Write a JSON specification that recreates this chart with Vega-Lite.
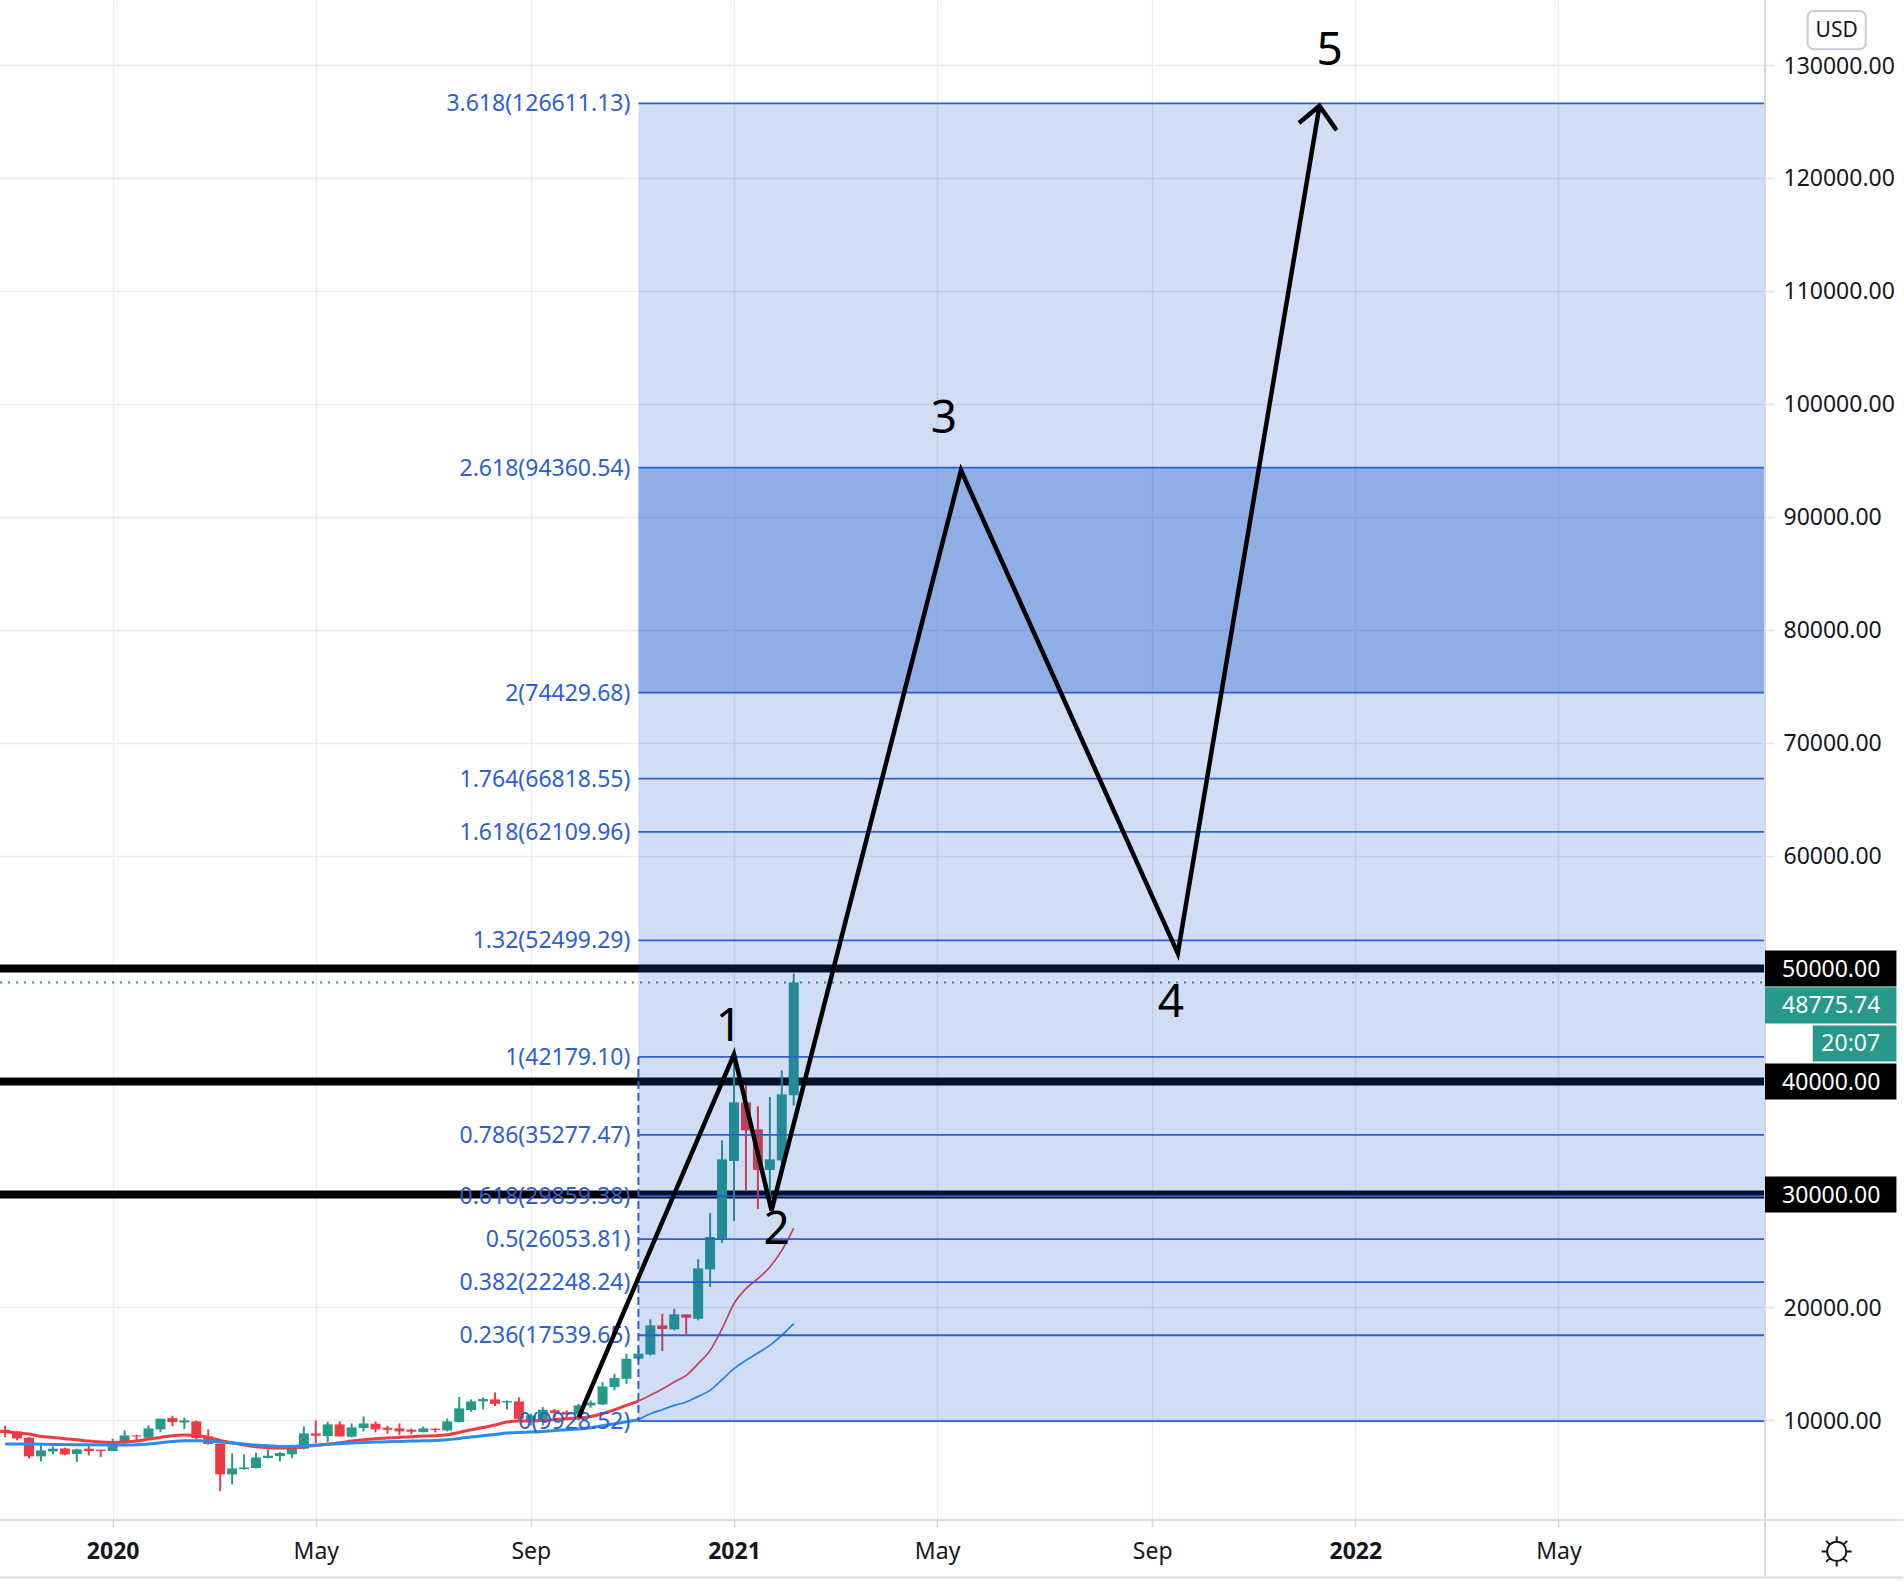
{
  "$schema": "https://vega.github.io/schema/vega-lite/v6.json",
  "width": 1765,
  "height": 1520,
  "autosize": {"type": "none"},
  "padding": {"left": 0, "top": 0, "right": 139, "bottom": 66},
  "background": "#ffffff",
  "config": {"view": {"stroke": null}, "font": "Noto Sans"},
  "datasets": {
    "candles": [
      {"date":"2019-11-04","open":9174,"high":9528,"low":8524,"close":8879},
      {"date":"2019-11-11","open":9026,"high":9026,"low":8229,"close":8406},
      {"date":"2019-11-18","open":8465,"high":8524,"low":6636,"close":6813},
      {"date":"2019-11-25","open":6813,"high":7787,"low":6370,"close":7344},
      {"date":"2019-12-02","open":7255,"high":7698,"low":6990,"close":7492},
      {"date":"2019-12-09","open":7521,"high":7580,"low":6901,"close":6990},
      {"date":"2019-12-16","open":7019,"high":7492,"low":6311,"close":7433},
      {"date":"2019-12-23","open":7492,"high":7787,"low":6901,"close":7285},
      {"date":"2019-12-30","open":7403,"high":7403,"low":6754,"close":7285},
      {"date":"2020-01-06","open":7285,"high":8377,"low":7285,"close":8023},
      {"date":"2020-01-13","open":8111,"high":9115,"low":7846,"close":8672},
      {"date":"2020-01-20","open":8672,"high":8731,"low":8229,"close":8583},
      {"date":"2020-01-27","open":8465,"high":9557,"low":8406,"close":9292},
      {"date":"2020-02-03","open":9203,"high":10147,"low":8967,"close":10147},
      {"date":"2020-02-10","open":10206,"high":10413,"low":9469,"close":9852},
      {"date":"2020-02-17","open":9823,"high":10236,"low":9233,"close":10000},
      {"date":"2020-02-24","open":9911,"high":10000,"low":8318,"close":8436},
      {"date":"2020-03-02","open":8583,"high":9203,"low":7875,"close":7905},
      {"date":"2020-03-09","open":7934,"high":7934,"low":3744,"close":5219},
      {"date":"2020-03-16","open":5219,"high":7078,"low":4334,"close":5750},
      {"date":"2020-03-23","open":5692,"high":7000,"low":5632,"close":5839},
      {"date":"2020-03-30","open":5780,"high":7138,"low":5750,"close":6724},
      {"date":"2020-04-06","open":6665,"high":7433,"low":6636,"close":6872},
      {"date":"2020-04-13","open":6842,"high":7197,"low":6370,"close":7108},
      {"date":"2020-04-20","open":6990,"high":7846,"low":6665,"close":7492},
      {"date":"2020-04-27","open":7492,"high":9469,"low":7433,"close":8849},
      {"date":"2020-05-04","open":8849,"high":10000,"low":7993,"close":8643},
      {"date":"2020-05-11","open":8613,"high":9882,"low":8082,"close":9646},
      {"date":"2020-05-18","open":9646,"high":9911,"low":8583,"close":8583},
      {"date":"2020-05-25","open":8554,"high":9734,"low":8495,"close":9380},
      {"date":"2020-06-01","open":9321,"high":10354,"low":9026,"close":9734},
      {"date":"2020-06-08","open":9705,"high":9882,"low":8938,"close":9203},
      {"date":"2020-06-15","open":9351,"high":9528,"low":8819,"close":9174},
      {"date":"2020-06-22","open":9292,"high":9734,"low":8701,"close":9026},
      {"date":"2020-06-29","open":9174,"high":9292,"low":8790,"close":8997},
      {"date":"2020-07-06","open":8967,"high":9469,"low":8938,"close":9292},
      {"date":"2020-07-13","open":9262,"high":9292,"low":8938,"close":9144},
      {"date":"2020-07-20","open":9115,"high":10177,"low":9026,"close":9911},
      {"date":"2020-07-27","open":9852,"high":12066,"low":9823,"close":11062},
      {"date":"2020-08-03","open":10915,"high":11859,"low":10767,"close":11682},
      {"date":"2020-08-10","open":11682,"high":12036,"low":10974,"close":11889},
      {"date":"2020-08-17","open":11859,"high":12479,"low":11269,"close":11475},
      {"date":"2020-08-24","open":11593,"high":11770,"low":10974,"close":11711},
      {"date":"2020-08-31","open":11682,"high":12036,"low":9941,"close":10147},
      {"date":"2020-09-07","open":10000,"high":10590,"low":9557,"close":10443},
      {"date":"2020-09-14","open":10000,"high":11180,"low":9557,"close":10944},
      {"date":"2020-09-21","open":10885,"high":11003,"low":10295,"close":10649},
      {"date":"2020-09-28","open":10738,"high":10885,"low":10147,"close":10531},
      {"date":"2020-10-05","open":10531,"high":11475,"low":10000,"close":11328},
      {"date":"2020-10-12","open":11328,"high":11770,"low":11121,"close":11564},
      {"date":"2020-10-19","open":11416,"high":13394,"low":11357,"close":13010},
      {"date":"2020-10-26","open":12951,"high":14131,"low":12656,"close":13748},
      {"date":"2020-11-02","open":13689,"high":15902,"low":13246,"close":15459},
      {"date":"2020-11-09","open":15463,"high":16348,"low":15370,"close":15905},
      {"date":"2020-11-16","open":15846,"high":18945,"low":15758,"close":18414},
      {"date":"2020-11-23","open":18414,"high":19447,"low":16141,"close":18089},
      {"date":"2020-11-30","open":18060,"high":19889,"low":17971,"close":19387},
      {"date":"2020-12-07","open":19387,"high":19387,"low":17617,"close":19092},
      {"date":"2020-12-14","open":19000,"high":24258,"low":18857,"close":23460},
      {"date":"2020-12-21","open":23373,"high":28360,"low":21808,"close":26235},
      {"date":"2020-12-28","open":26088,"high":34793,"low":25704,"close":33111},
      {"date":"2021-01-04","open":32964,"high":42023,"low":27652,"close":38157},
      {"date":"2021-01-11","open":38157,"high":39662,"low":30367,"close":35679},
      {"date":"2021-01-18","open":35767,"high":37803,"low":28714,"close":32167},
      {"date":"2021-01-25","open":32167,"high":38630,"low":29100,"close":33111},
      {"date":"2021-02-01","open":33023,"high":40990,"low":32300,"close":38866},
      {"date":"2021-02-08","open":38777,"high":49548,"low":37892,"close":48775.74}
    ],
    "averages": [
      {"date":"2019-11-04","line":"fast","part":"left","price":9026},
      {"date":"2019-11-11","line":"fast","part":"left","price":8879},
      {"date":"2019-11-18","line":"fast","part":"left","price":8790},
      {"date":"2019-11-25","line":"fast","part":"left","price":8583},
      {"date":"2019-12-02","line":"fast","part":"left","price":8495},
      {"date":"2019-12-09","line":"fast","part":"left","price":8377},
      {"date":"2019-12-16","line":"fast","part":"left","price":8288},
      {"date":"2019-12-23","line":"fast","part":"left","price":8170},
      {"date":"2019-12-30","line":"fast","part":"left","price":8082},
      {"date":"2020-01-06","line":"fast","part":"left","price":8052},
      {"date":"2020-01-13","line":"fast","part":"left","price":8082},
      {"date":"2020-01-20","line":"fast","part":"left","price":8170},
      {"date":"2020-01-27","line":"fast","part":"left","price":8347},
      {"date":"2020-02-03","line":"fast","part":"left","price":8495},
      {"date":"2020-02-10","line":"fast","part":"left","price":8643},
      {"date":"2020-02-17","line":"fast","part":"left","price":8701},
      {"date":"2020-02-24","line":"fast","part":"left","price":8672},
      {"date":"2020-03-02","line":"fast","part":"left","price":8495},
      {"date":"2020-03-09","line":"fast","part":"left","price":8229},
      {"date":"2020-03-16","line":"fast","part":"left","price":8023},
      {"date":"2020-03-23","line":"fast","part":"left","price":7816},
      {"date":"2020-03-30","line":"fast","part":"left","price":7669},
      {"date":"2020-04-06","line":"fast","part":"left","price":7580},
      {"date":"2020-04-13","line":"fast","part":"left","price":7551},
      {"date":"2020-04-20","line":"fast","part":"left","price":7551},
      {"date":"2020-04-27","line":"fast","part":"left","price":7669},
      {"date":"2020-05-04","line":"fast","part":"left","price":7787},
      {"date":"2020-05-11","line":"fast","part":"left","price":7905},
      {"date":"2020-05-18","line":"fast","part":"left","price":8023},
      {"date":"2020-05-25","line":"fast","part":"left","price":8170},
      {"date":"2020-06-01","line":"fast","part":"left","price":8288},
      {"date":"2020-06-08","line":"fast","part":"left","price":8377},
      {"date":"2020-06-15","line":"fast","part":"left","price":8436},
      {"date":"2020-06-22","line":"fast","part":"left","price":8495},
      {"date":"2020-06-29","line":"fast","part":"left","price":8554},
      {"date":"2020-07-06","line":"fast","part":"left","price":8613},
      {"date":"2020-07-13","line":"fast","part":"left","price":8643},
      {"date":"2020-07-20","line":"fast","part":"left","price":8731},
      {"date":"2020-07-27","line":"fast","part":"left","price":8937},
      {"date":"2020-08-03","line":"fast","part":"left","price":9174},
      {"date":"2020-08-10","line":"fast","part":"left","price":9380},
      {"date":"2020-08-17","line":"fast","part":"left","price":9587},
      {"date":"2020-08-24","line":"fast","part":"left","price":9852},
      {"date":"2020-08-31","line":"fast","part":"left","price":9941},
      {"date":"2020-09-07","line":"fast","part":"left","price":9941},
      {"date":"2020-09-14","line":"fast","part":"left","price":10000},
      {"date":"2020-09-21","line":"fast","part":"left","price":10088},
      {"date":"2020-09-28","line":"fast","part":"left","price":10147},
      {"date":"2020-10-05","line":"fast","part":"left","price":10206},
      {"date":"2020-10-12","line":"fast","part":"left","price":10354},
      {"date":"2020-10-19","line":"fast","part":"left","price":10590},
      {"date":"2020-10-26","line":"fast","part":"left","price":10944},
      {"date":"2020-11-02","line":"fast","part":"left","price":11328},
      {"date":"2020-11-09","line":"fast","part":"left","price":11711},
      {"date":"2020-11-09","line":"fast","part":"right","price":11711},
      {"date":"2020-11-16","line":"fast","part":"right","price":12217},
      {"date":"2020-11-23","line":"fast","part":"right","price":12777},
      {"date":"2020-11-30","line":"fast","part":"right","price":13397},
      {"date":"2020-12-07","line":"fast","part":"right","price":13987},
      {"date":"2020-12-14","line":"fast","part":"right","price":15020},
      {"date":"2020-12-21","line":"fast","part":"right","price":16200},
      {"date":"2020-12-28","line":"fast","part":"right","price":18118},
      {"date":"2021-01-04","line":"fast","part":"right","price":20331},
      {"date":"2021-01-11","line":"fast","part":"right","price":21660},
      {"date":"2021-01-18","line":"fast","part":"right","price":22545},
      {"date":"2021-01-25","line":"fast","part":"right","price":23578},
      {"date":"2021-02-01","line":"fast","part":"right","price":25053},
      {"date":"2021-02-08","line":"fast","part":"right","price":27031},
      {"date":"2019-11-04","line":"slow","part":"left","price":7905},
      {"date":"2019-11-18","line":"slow","part":"left","price":7905},
      {"date":"2019-12-02","line":"slow","part":"left","price":7875},
      {"date":"2019-12-16","line":"slow","part":"left","price":7846},
      {"date":"2020-01-06","line":"slow","part":"left","price":7816},
      {"date":"2020-01-13","line":"slow","part":"left","price":7816},
      {"date":"2020-01-20","line":"slow","part":"left","price":7846},
      {"date":"2020-01-27","line":"slow","part":"left","price":7905},
      {"date":"2020-02-03","line":"slow","part":"left","price":8023},
      {"date":"2020-02-10","line":"slow","part":"left","price":8141},
      {"date":"2020-02-17","line":"slow","part":"left","price":8200},
      {"date":"2020-02-24","line":"slow","part":"left","price":8200},
      {"date":"2020-03-02","line":"slow","part":"left","price":8170},
      {"date":"2020-03-09","line":"slow","part":"left","price":8082},
      {"date":"2020-03-16","line":"slow","part":"left","price":7993},
      {"date":"2020-03-23","line":"slow","part":"left","price":7905},
      {"date":"2020-03-30","line":"slow","part":"left","price":7816},
      {"date":"2020-04-06","line":"slow","part":"left","price":7757},
      {"date":"2020-04-13","line":"slow","part":"left","price":7698},
      {"date":"2020-04-20","line":"slow","part":"left","price":7698},
      {"date":"2020-04-27","line":"slow","part":"left","price":7757},
      {"date":"2020-05-04","line":"slow","part":"left","price":7816},
      {"date":"2020-05-11","line":"slow","part":"left","price":7875},
      {"date":"2020-05-18","line":"slow","part":"left","price":7934},
      {"date":"2020-05-25","line":"slow","part":"left","price":7993},
      {"date":"2020-06-01","line":"slow","part":"left","price":8052},
      {"date":"2020-06-08","line":"slow","part":"left","price":8082},
      {"date":"2020-06-15","line":"slow","part":"left","price":8111},
      {"date":"2020-06-22","line":"slow","part":"left","price":8141},
      {"date":"2020-06-29","line":"slow","part":"left","price":8170},
      {"date":"2020-07-06","line":"slow","part":"left","price":8200},
      {"date":"2020-07-13","line":"slow","part":"left","price":8229},
      {"date":"2020-07-20","line":"slow","part":"left","price":8288},
      {"date":"2020-07-27","line":"slow","part":"left","price":8406},
      {"date":"2020-08-03","line":"slow","part":"left","price":8524},
      {"date":"2020-08-10","line":"slow","part":"left","price":8643},
      {"date":"2020-08-17","line":"slow","part":"left","price":8760},
      {"date":"2020-08-24","line":"slow","part":"left","price":8879},
      {"date":"2020-08-31","line":"slow","part":"left","price":8937},
      {"date":"2020-09-07","line":"slow","part":"left","price":8967},
      {"date":"2020-09-14","line":"slow","part":"left","price":9026},
      {"date":"2020-09-21","line":"slow","part":"left","price":9115},
      {"date":"2020-09-28","line":"slow","part":"left","price":9174},
      {"date":"2020-10-05","line":"slow","part":"left","price":9233},
      {"date":"2020-10-12","line":"slow","part":"left","price":9351},
      {"date":"2020-10-19","line":"slow","part":"left","price":9528},
      {"date":"2020-10-26","line":"slow","part":"left","price":9705},
      {"date":"2020-11-02","line":"slow","part":"left","price":9882},
      {"date":"2020-11-09","line":"slow","part":"left","price":10059},
      {"date":"2020-11-09","line":"slow","part":"right","price":10059},
      {"date":"2020-11-16","line":"slow","part":"right","price":10593},
      {"date":"2020-11-23","line":"slow","part":"right","price":10947},
      {"date":"2020-11-30","line":"slow","part":"right","price":11331},
      {"date":"2020-12-07","line":"slow","part":"right","price":11626},
      {"date":"2020-12-14","line":"slow","part":"right","price":12127},
      {"date":"2020-12-21","line":"slow","part":"right","price":12660},
      {"date":"2020-12-28","line":"slow","part":"right","price":13604},
      {"date":"2021-01-04","line":"slow","part":"right","price":14578},
      {"date":"2021-01-11","line":"slow","part":"right","price":15315},
      {"date":"2021-01-18","line":"slow","part":"right","price":15965},
      {"date":"2021-01-25","line":"slow","part":"right","price":16644},
      {"date":"2021-02-01","line":"slow","part":"right","price":17528},
      {"date":"2021-02-08","line":"slow","part":"right","price":18561}
    ],
    "levels": [
      {"date":"2020-11-09","end":"2022-08-31","price":126611.13,"label":"3.618(126611.13)"},
      {"date":"2020-11-09","end":"2022-08-31","price":94360.54,"label":"2.618(94360.54)"},
      {"date":"2020-11-09","end":"2022-08-31","price":74429.68,"label":"2(74429.68)"},
      {"date":"2020-11-09","end":"2022-08-31","price":66818.55,"label":"1.764(66818.55)"},
      {"date":"2020-11-09","end":"2022-08-31","price":62109.96,"label":"1.618(62109.96)"},
      {"date":"2020-11-09","end":"2022-08-31","price":52499.29,"label":"1.32(52499.29)"},
      {"date":"2020-11-09","end":"2022-08-31","price":42179.10,"label":"1(42179.10)"},
      {"date":"2020-11-09","end":"2022-08-31","price":35277.47,"label":"0.786(35277.47)"},
      {"date":"2020-11-09","end":"2022-08-31","price":29859.38,"label":"0.618(29859.38)"},
      {"date":"2020-11-09","end":"2022-08-31","price":26053.81,"label":"0.5(26053.81)"},
      {"date":"2020-11-09","end":"2022-08-31","price":22248.24,"label":"0.382(22248.24)"},
      {"date":"2020-11-09","end":"2022-08-31","price":17539.65,"label":"0.236(17539.65)"},
      {"date":"2020-11-09","end":"2022-08-31","price":9928.52,"label":"0(9928.52)"}
    ],
    "zones": [
      {"date":"2020-11-09","end":"2022-08-31","price":126611.13,"floor":9928.52},
      {"date":"2020-11-09","end":"2022-08-31","price":94360.54,"floor":74429.68}
    ],
    "wave": [
      {"date":"2020-10-05","price":10265,"step":1,"path":"wave"},
      {"date":"2021-01-04","price":42407,"step":2,"path":"wave"},
      {"date":"2021-01-26","price":28596,"step":3,"path":"wave"},
      {"date":"2021-05-17","price":94113,"step":4,"path":"wave"},
      {"date":"2021-09-21","price":51348,"step":5,"path":"wave"},
      {"date":"2021-12-13","price":126378,"step":6,"path":"wave"},
      {"date":"2021-12-01","price":124872,"step":1,"path":"head"},
      {"date":"2021-12-13","price":126378,"step":2,"path":"head"},
      {"date":"2021-12-23","price":124217,"step":3,"path":"head"}
    ],
    "counts": [
      {"date":"2021-01-01","price":44796,"label":"1"},
      {"date":"2021-01-29","price":26823,"label":"2"},
      {"date":"2021-05-07","price":98629,"label":"3"},
      {"date":"2021-09-17","price":46921,"label":"4"},
      {"date":"2021-12-19","price":131211,"label":"5"}
    ],
    "tags": [
      {"label":"50000.00","kind":"level","date":"2022-08-31","end":"2022-11-16","top":51594,"bottom":48406,"price":50000,"textDate":"2022-09-10"},
      {"label":"48775.74","kind":"price","date":"2022-08-31","end":"2022-11-16","top":48338,"bottom":45150,"price":46744,"textDate":"2022-09-10"},
      {"label":"20:07","kind":"timer","date":"2022-09-28","end":"2022-11-16","top":44972,"bottom":41786,"price":43379,"textDate":"2022-10-03"},
      {"label":"40000.00","kind":"level","date":"2022-08-31","end":"2022-11-16","top":41594,"bottom":38406,"price":40000,"textDate":"2022-09-10"},
      {"label":"30000.00","kind":"level","date":"2022-08-31","end":"2022-11-16","top":31594,"bottom":28406,"price":30000,"textDate":"2022-09-10"}
    ]
  },
  "encoding": {
    "x": {
      "field": "date",
      "type": "temporal",
      "title": null,
      "scale": {
        "type": "utc",
        "padding": 0,
        "domain": [{"year":2019,"month":11,"date":1,"utc":true},{"year":2022,"month":8,"date":31,"utc":true}]
      },
      "axis": {
        "values": [
          {"year":2020,"month":1,"date":6,"utc":true},
          {"year":2020,"month":5,"date":4,"utc":true},
          {"year":2020,"month":9,"date":7,"utc":true},
          {"year":2021,"month":1,"date":4,"utc":true},
          {"year":2021,"month":5,"date":3,"utc":true},
          {"year":2021,"month":9,"date":6,"utc":true},
          {"year":2022,"month":1,"date":3,"utc":true},
          {"year":2022,"month":5,"date":2,"utc":true}
        ],
        "labelExpr": "utcmonth(datum.value) == 0 ? utcFormat(datum.value, '%Y') : utcFormat(datum.value, '%b')",
        "labelFontWeight": {"condition": {"test": "utcmonth(datum.value) == 0", "value": "bold"}, "value": "normal"},
        "labelFontSize": 23,
        "labelColor": "#131722",
        "labelPadding": 13,
        "labelFlush": false,
        "labelOverlap": false,
        "tickSize": 7,
        "tickColor": "#d6d6d6",
        "tickWidth": 1.5,
        "domain": false,
        "grid": true,
        "gridColor": "#ececec",
        "gridWidth": 1.3
      }
    },
    "y": {
      "field": "price",
      "type": "quantitative",
      "title": null,
      "scale": {"domain": [1182, 135755], "nice": false, "zero": false, "padding": 0},
      "axis": {
        "orient": "right",
        "values": [10000,20000,30000,40000,50000,60000,70000,80000,90000,100000,110000,120000,130000],
        "format": ".2f",
        "labelFontSize": 23,
        "labelColor": "#131722",
        "labelPadding": 9,
        "labelOffset": 1,
        "labelFlush": false,
        "labelOverlap": false,
        "tickSize": 9,
        "tickColor": "#e4e4e4",
        "tickWidth": 1.5,
        "domain": false,
        "grid": true,
        "gridColor": "#ececec",
        "gridWidth": 1.3
      }
    }
  },
  "layer": [
    {
      "data": {"values": [
        {"date":"2019-11-01","end":"2022-08-31","price":50000},
        {"date":"2019-11-01","end":"2022-08-31","price":40000},
        {"date":"2019-11-01","end":"2022-08-31","price":30000}
      ]},
      "mark": {"type": "rule", "color": "#000000", "strokeWidth": 8},
      "encoding": {"x2": {"field": "end"}}
    },
    {
      "data": {"name": "candles"},
      "mark": {"type": "rule", "strokeWidth": 2},
      "encoding": {
        "y": {"field": "low", "type": "quantitative"},
        "y2": {"field": "high"},
        "color": {"condition": {"test": "datum.close >= datum.open", "value": "#26998b"}, "value": "#ee3a41"}
      }
    },
    {
      "data": {"name": "candles"},
      "mark": {"type": "bar", "size": 10, "orient": "vertical"},
      "encoding": {
        "y": {"field": "open", "type": "quantitative"},
        "y2": {"field": "close"},
        "color": {"condition": {"test": "datum.close >= datum.open", "value": "#26998b"}, "value": "#ee3a41"}
      }
    },
    {
      "data": {"name": "averages"},
      "mark": {"type": "line", "interpolate": "monotone"},
      "encoding": {
        "detail": {"field": "part"},
        "color": {"field": "line", "type": "nominal", "legend": null, "scale": {"domain": ["fast","slow"], "range": ["#f23a3f","#2a8cf0"]}},
        "strokeWidth": {"field": "part", "type": "nominal", "legend": null, "scale": {"domain": ["left","right"], "range": [3,1.7]}}
      }
    },
    {
      "data": {"values": [{"date":"2019-11-01","end":"2022-08-31","price":48775.74}]},
      "mark": {"type": "rule", "color": "#26998b", "strokeWidth": 2, "strokeDash": [2,6]},
      "encoding": {"x2": {"field": "end"}}
    },
    {
      "data": {"name": "zones"},
      "mark": {"type": "bar", "orient": "vertical", "color": "#1455c8"},
      "encoding": {
        "x2": {"field": "end"},
        "y2": {"field": "floor"},
        "opacity": {"field": "floor", "type": "quantitative", "legend": null, "scale": {"type": "threshold", "domain": [50000], "range": [0.2,0.35]}}
      }
    },
    {
      "data": {"name": "levels"},
      "mark": {"type": "rule", "color": "#2d5fd2", "strokeWidth": 1.8},
      "encoding": {"x2": {"field": "end"}}
    },
    {
      "data": {"values": [{"date":"2020-11-09","price":42179.10,"floor":9928.52}]},
      "mark": {"type": "rule", "color": "#2d5fd2", "strokeWidth": 2, "strokeDash": [8,4]},
      "encoding": {"y2": {"field": "floor"}}
    },
    {
      "data": {"name": "levels"},
      "mark": {"type": "text", "align": "right", "baseline": "middle", "dx": -8, "dy": 1, "fontSize": 23, "color": "#2d5fd2"},
      "encoding": {"text": {"field": "label"}}
    },
    {
      "data": {"name": "wave"},
      "mark": {"type": "line", "color": "#000000", "strokeWidth": 4.5, "clip": false},
      "encoding": {
        "detail": {"field": "path"},
        "order": {"field": "step", "type": "quantitative"}
      }
    },
    {
      "data": {"name": "counts"},
      "mark": {"type": "text", "align": "center", "baseline": "middle", "fontSize": 46, "color": "#000000"},
      "encoding": {"text": {"field": "label"}}
    },
    {
      "data": {"values": [
        {"date":"2019-11-01","end":"2022-11-20","price":1182},
        {"date":"2019-11-01","end":"2022-11-20","price":-3901}
      ]},
      "mark": {"type": "rule", "strokeWidth": 2, "color": "#d9dce5"},
      "encoding": {"x2": {"field": "end"}}
    },
    {
      "data": {"values": [{"date":"2022-08-31","price":135755,"floor":-3901}]},
      "mark": {"type": "rule", "strokeWidth": 2, "color": "#d9d9d9"},
      "encoding": {"y2": {"field": "floor"}}
    },
    {
      "data": {"name": "tags"},
      "mark": {"type": "bar", "orient": "vertical"},
      "encoding": {
        "x2": {"field": "end"},
        "y": {"field": "top", "type": "quantitative"},
        "y2": {"field": "bottom"},
        "fill": {"field": "kind", "type": "nominal", "legend": null, "scale": {"domain": ["level","price","timer"], "range": ["#000000","#26998b","#26998b"]}}
      }
    },
    {
      "data": {"name": "tags"},
      "transform": [{"filter": "datum.kind !== 'timer'"}, {"calculate": "'2022-09-05'", "as": "tickEnd"}],
      "mark": {"type": "rule", "color": "#ffffff", "strokeWidth": 2},
      "encoding": {"x2": {"field": "tickEnd"}}
    },
    {
      "data": {"name": "tags"},
      "mark": {"type": "text", "align": "left", "baseline": "middle", "fontSize": 23, "dy": 1, "color": "#ffffff"},
      "encoding": {
        "x": {"field": "textDate", "type": "temporal"},
        "text": {"field": "label"}
      }
    },
    {
      "data": {"values": [{"date":"2022-09-25","end":"2022-10-29","price":134780,"floor":131388}]},
      "mark": {"type": "bar", "orient": "vertical", "fill": "#ffffff", "stroke": "#c9ccd8", "strokeWidth": 2, "cornerRadius": 6},
      "encoding": {"x2": {"field": "end"}, "y2": {"field": "floor"}}
    },
    {
      "data": {"values": [{"date":"2022-10-12","price":133000,"label":"USD"}]},
      "mark": {"type": "text", "align": "center", "baseline": "middle", "fontSize": 21, "color": "#131722"},
      "encoding": {"text": {"field": "label"}}
    },
    {
      "data": {"values": [{"date":"2022-10-12","price":-1599}]},
      "mark": {
        "type": "point",
        "shape": "M0.32,0A0.32,0.32 0 1,1 -0.32,0A0.32,0.32 0 1,1 0.32,0M0,-0.5L0,-0.32M0,0.5L0,0.32M-0.5,0L-0.32,0M0.5,0L0.32,0M-0.35,-0.35L-0.23,-0.23M0.35,-0.35L0.23,-0.23M-0.35,0.35L-0.23,0.23M0.35,0.35L0.23,0.23",
        "size": 3600,
        "filled": false,
        "stroke": "#131722",
        "strokeWidth": 2,
        "opacity": 1
      }
    }
  ]
}
